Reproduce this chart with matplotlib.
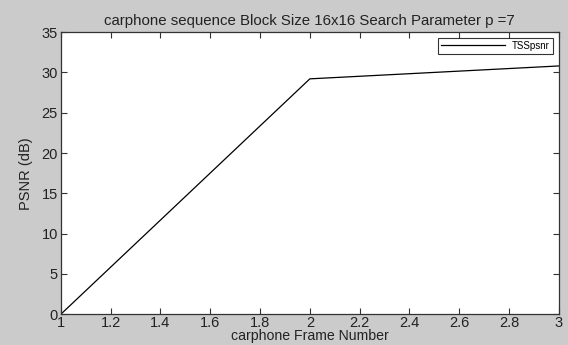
import matplotlib.pyplot as plt

frames = [1, 2, 3]
tss_psnr = [0.0, 29.2, 30.8]
x_ticks = [1, 1.2, 1.4, 1.6, 1.8, 2, 2.2, 2.4, 2.6, 2.8, 3]
y_ticks = [0, 5, 10, 15, 20, 25, 30, 35]

plt.rcParams['font.family'] = ['Liberation Sans', 'DejaVu Sans']

fig = plt.figure(figsize=(5.68, 3.45), dpi=100, facecolor='#cbcbcb')
ax = fig.add_axes([0.107, 0.089, 0.877, 0.818])
ax.plot(frames, tss_psnr, color='black', lw=0.9, label='TSSpsnr')

ax.set_xlim(1, 3)
ax.set_ylim(0, 35)
ax.set_xticks(x_ticks)
ax.set_xticklabels([f'{t:g}' for t in x_ticks])
ax.set_yticks(y_ticks)
ax.tick_params(direction='in', top=True, right=True, labelsize=10.5, length=4, width=0.8, pad=2,
               colors='#333333', labelcolor='#222222')
ax.tick_params(axis='x', pad=1)
for s in ax.spines.values():
    s.set_linewidth(0.9)
    s.set_color('#333333')

ax.set_title('carphone sequence Block Size 16x16 Search Parameter p =7', fontsize=10.8, pad=5,
             color='#222222')
ax.set_xlabel('carphone Frame Number', fontsize=10.2, labelpad=-0.5, color='#222222')
ax.set_ylabel('PSNR (dB)', fontsize=10.5, labelpad=6, color='#222222')

leg = ax.legend(loc='upper right', fontsize=7, frameon=True, fancybox=False,
                handlelength=6.5, borderpad=0.3, borderaxespad=0.6, handletextpad=0.8)
leg.get_frame().set_edgecolor('black')
leg.get_frame().set_linewidth(0.8)

fig.savefig('out.png', dpi=100, facecolor=fig.get_facecolor())
